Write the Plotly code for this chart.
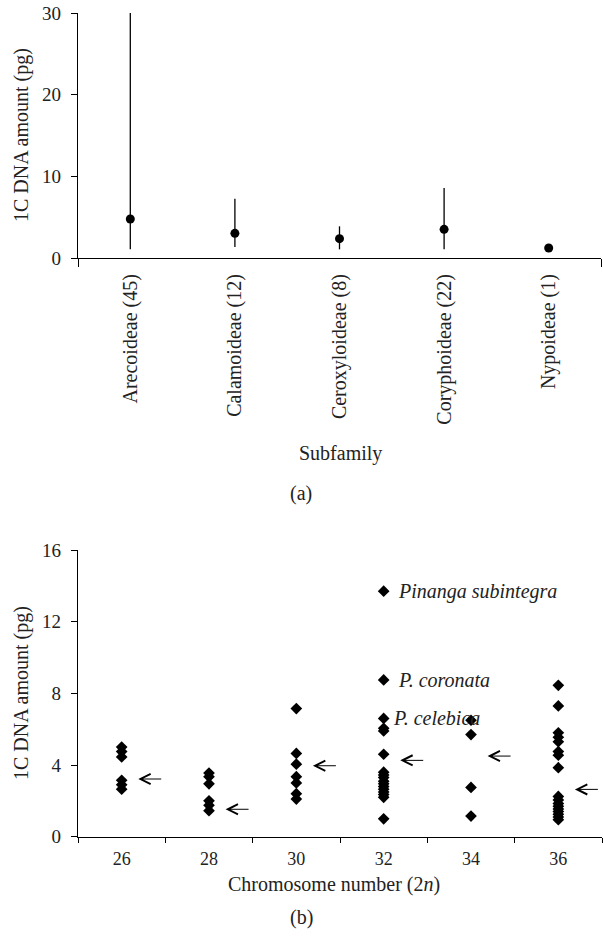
import plotly.graph_objects as go

# ---------- Panel (a) data ----------
subfamilies = ["Arecoideae (45)", "Calamoideae (12)", "Ceroxyloideae (8)",
               "Coryphoideae (22)", "Nypoideae (1)"]
mean_1c = [4.77, 3.02, 2.37, 3.51, 1.22]
min_1c = [1.06, 1.35, 1.06, 1.06, 1.22]
max_1c = [30.0, 7.26, 3.88, 8.57, 1.22]

# ---------- Panel (b) data ----------
chromosomes = ["26", "28", "30", "32", "34", "36"]
c26 = [5.0, 4.75, 4.45, 3.15, 2.9, 2.65]
c28 = [3.55, 3.35, 2.95, 2.0, 1.75, 1.45]
c30 = [7.15, 4.65, 4.05, 3.35, 3.0, 2.4, 2.1]
c32 = [13.7, 8.75, 6.6, 6.05, 5.9, 4.6, 3.6, 3.45, 3.3, 3.1, 2.95, 2.8, 2.65,
       2.5, 2.35, 2.2, 1.0]
c34 = [6.5, 5.7, 2.75, 1.15]
c36 = [8.45, 7.3, 5.8, 5.55, 5.3, 4.75, 4.55, 3.85, 2.25, 2.05, 1.85, 1.7,
       1.55, 1.4, 1.25, 1.1, 0.95]
group_means = [3.22, 1.53, 3.96, 4.26, 4.50, 2.64]
species_labels = ["Pinanga subintegra", "P. coronata", "P. celebica"]
species_values = [13.7, 8.75, 6.6]
species_group = "32"

W, H = 603, 944
FONT = "Liberation Serif"
TICK_SIZE = 19
TEXT_SIZE = 20
TXT_COLOR = "#222"

def px_x(p):
    return p / W

def px_y(p):
    return 1 - p / H

fig = go.Figure()

# Panel (a)
xa = list(range(len(subfamilies)))
fig.add_trace(go.Scatter(
    x=xa, y=mean_1c, mode="markers",
    marker=dict(symbol="circle", size=9, color="black"),
    error_y=dict(type="data", symmetric=False,
                 array=[mx - m for mx, m in zip(max_1c, mean_1c)],
                 arrayminus=[m - mn for m, mn in zip(mean_1c, min_1c)],
                 color="black", thickness=1.3, width=0),
    xaxis="x", yaxis="y", showlegend=False, cliponaxis=False,
))

# Panel (b)
groups = [c26, c28, c30, c32, c34, c36]
bx, by = [], []
for i, vals in enumerate(groups):
    bx += [i] * len(vals)
    by += vals
fig.add_trace(go.Scatter(
    x=bx, y=by, mode="markers",
    marker=dict(symbol="diamond", size=9, color="black"),
    xaxis="x2", yaxis="y2", showlegend=False,
))

annotations = []
# mean arrows
for i, m in enumerate(group_means):
    annotations.append(dict(
        x=i + 0.19, y=m, ax=i + 0.47, ay=m,
        xref="x2", yref="y2", axref="x2", ayref="y2",
        showarrow=True, arrowhead=5, arrowsize=2, arrowwidth=1,
        arrowcolor="black", text="", standoff=0, startstandoff=0,
    ))
# species labels
gi = chromosomes.index(species_group)
for lab, v, sh in zip(species_labels, species_values, [12, 12, 7]):
    annotations.append(dict(
        x=gi, y=v, xref="x2", yref="y2", text="<i>" + lab + "</i>",
        showarrow=False, xanchor="left", yanchor="middle", xshift=sh,
        font=dict(family=FONT, size=TEXT_SIZE, color=TXT_COLOR),
    ))

# titles as text
def label(xp, yp, text, angle=0):
    return dict(x=px_x(xp), y=px_y(yp), xref="paper", yref="paper",
                text=text, textangle=angle, showarrow=False,
                xanchor="center", yanchor="middle",
                font=dict(family=FONT, size=TEXT_SIZE, color=TXT_COLOR))

annotations += [
    label(21, 135, "1C DNA amount (pg)", -90),
    label(340, 453, "Subfamily"),
    label(301, 493, "(a)"),
    label(21, 693, "1C DNA amount (pg)", -90),
    label(334, 884, "Chromosome number (2<i>n</i>)"),
    label(301, 917, "(b)"),
]

axis_common = dict(showgrid=False, zeroline=False, showline=True,
                   automargin=False,
                   linecolor="black", linewidth=1.3,
                   tickfont=dict(family=FONT, size=TICK_SIZE, color=TXT_COLOR))

fig.update_layout(
    template="none",
    width=W, height=H,
    margin=dict(l=0, r=0, t=0, b=0, pad=0),
    paper_bgcolor="white", plot_bgcolor="white",
    font=dict(family=FONT, color=TXT_COLOR),
    xaxis=dict(**axis_common, domain=[px_x(78), px_x(601)],
               range=[-0.5, len(subfamilies) - 0.5], anchor="y",
               tickmode="array", tickvals=xa, ticktext=subfamilies,
               tickangle=-90, ticks="", ticklabelstandoff=7,
               tickfont_size=20,
               minor=dict(tickmode="array", tickvals=[-0.5, len(subfamilies) - 0.5],
                          ticks="outside", ticklen=8, tickcolor="black", tickwidth=1.3)),
    yaxis=dict(**axis_common, domain=[px_y(258), px_y(13)], range=[0, 30],
               anchor="x", tickvals=[0, 10, 20, 30], ticks="outside",
               ticklen=6, tickwidth=1.3, tickcolor="black", ticklabelstandoff=6),
    xaxis2=dict(**axis_common, domain=[px_x(78), px_x(602)],
                range=[-0.5, len(chromosomes) - 0.5], anchor="y2",
                tickmode="array", tickvals=list(range(len(chromosomes))),
                ticktext=chromosomes, ticks="", ticklabelstandoff=6,
                tickfont_size=18,
                minor=dict(tickmode="array",
                           tickvals=[i - 0.5 for i in range(len(chromosomes) + 1)],
                           ticks="outside", ticklen=5, tickcolor="black", tickwidth=1.3)),
    yaxis2=dict(**axis_common, domain=[px_y(836.7), px_y(550)], range=[0, 16],
                anchor="x2", tickvals=[0, 4, 8, 12, 16], ticks="outside",
                ticklen=6, tickwidth=1.3, tickcolor="black", ticklabelstandoff=6),
    annotations=annotations,
)

fig.write_html("out.html")
